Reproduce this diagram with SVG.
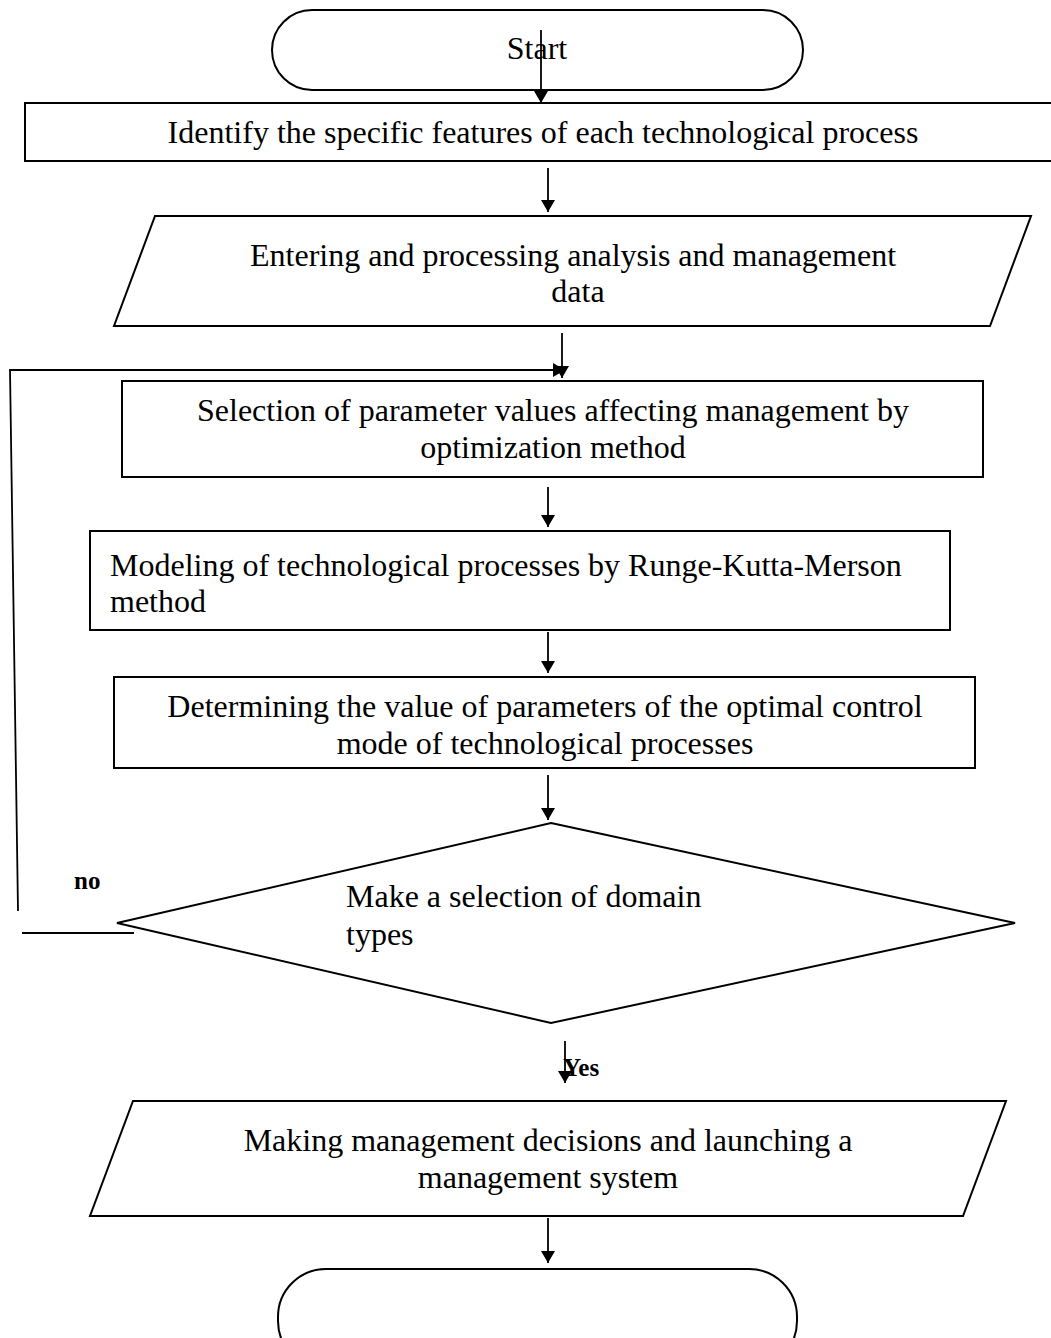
<svg xmlns="http://www.w3.org/2000/svg" width="1051" height="1338" viewBox="0 0 1051 1338">
<style>
.s{fill:#fff;stroke:#000;stroke-width:2}
.t{font-family:"Liberation Serif","Times New Roman",serif;font-size:32px;fill:#000}
.c{text-anchor:middle}
.b{font-family:"Liberation Serif","Times New Roman",serif;font-size:25px;font-weight:bold;fill:#000}
.l{fill:none;stroke:#000;stroke-width:1.8}
</style>
<defs>
<marker id="ah" markerWidth="12" markerHeight="14" refX="12" refY="7" orient="auto" markerUnits="userSpaceOnUse">
<path d="M0,0 L12,7 L0,14 Z" fill="#000"/>
</marker>
</defs>
<g id="start">
<rect class="s" x="272" y="10" width="531" height="80" rx="40" ry="40"/>
<text class="t c" x="537" y="59">Start</text>
</g>
<g id="identify">
<rect class="s" x="25" y="103" width="1040" height="58"/>
<text class="t c" x="543" y="143">Identify the specific features of each technological process</text>
</g>
<g id="entering">
<polygon class="s" points="155,216 1031,216 990,326 114,326"/>
<text class="t c" x="573" y="266">Entering and processing analysis and management</text>
<text class="t c" x="578" y="302">data</text>
</g>
<g id="selection">
<rect class="s" x="122" y="381" width="861" height="96"/>
<text class="t c" x="553" y="421">Selection of parameter values affecting management by</text>
<text class="t c" x="553" y="458">optimization method</text>
</g>
<g id="modeling">
<rect class="s" x="90" y="531" width="860" height="99"/>
<text class="t" x="110" y="576">Modeling of technological processes by Runge-Kutta-Merson</text>
<text class="t" x="110" y="612">method</text>
</g>
<g id="determining">
<rect class="s" x="114" y="677" width="861" height="91"/>
<text class="t c" x="545" y="717">Determining the value of parameters of the optimal control</text>
<text class="t c" x="545" y="754">mode of technological processes</text>
</g>
<g id="decision">
<polygon class="s" points="551,823 1015,923 551,1023 117,923"/>
<text class="t" x="346" y="907">Make a selection of domain</text>
<text class="t" x="346" y="945">types</text>
</g>
<g id="making">
<polygon class="s" points="133,1101 1006,1101 963,1216 90,1216"/>
<text class="t c" x="548" y="1151">Making management decisions and launching a</text>
<text class="t c" x="548" y="1188">management system</text>
</g>
<g id="end">
<rect class="s" x="278" y="1269" width="519" height="100" rx="48" ry="48"/>
</g>
<g id="connectors">
<line class="l" x1="541" y1="30" x2="541" y2="103" marker-end="url(#ah)"/>
<line class="l" x1="548" y1="168" x2="548" y2="212" marker-end="url(#ah)"/>
<line class="l" x1="562" y1="333" x2="562" y2="378" marker-end="url(#ah)"/>
<polyline class="l" points="18,911 10,370 565,370" marker-end="url(#ah)"/>
<line class="l" x1="22" y1="933" x2="134" y2="933"/>
<line class="l" x1="548" y1="487" x2="548" y2="527" marker-end="url(#ah)"/>
<line class="l" x1="548" y1="632" x2="548" y2="673" marker-end="url(#ah)"/>
<line class="l" x1="548" y1="775" x2="548" y2="820" marker-end="url(#ah)"/>
<line class="l" x1="565" y1="1041" x2="565" y2="1083" marker-end="url(#ah)"/>
<line class="l" x1="548" y1="1218" x2="548" y2="1263" marker-end="url(#ah)"/>
<text class="b" x="74" y="889">no</text>
<text class="b" x="563" y="1076">Yes</text>
</g>
</svg>
